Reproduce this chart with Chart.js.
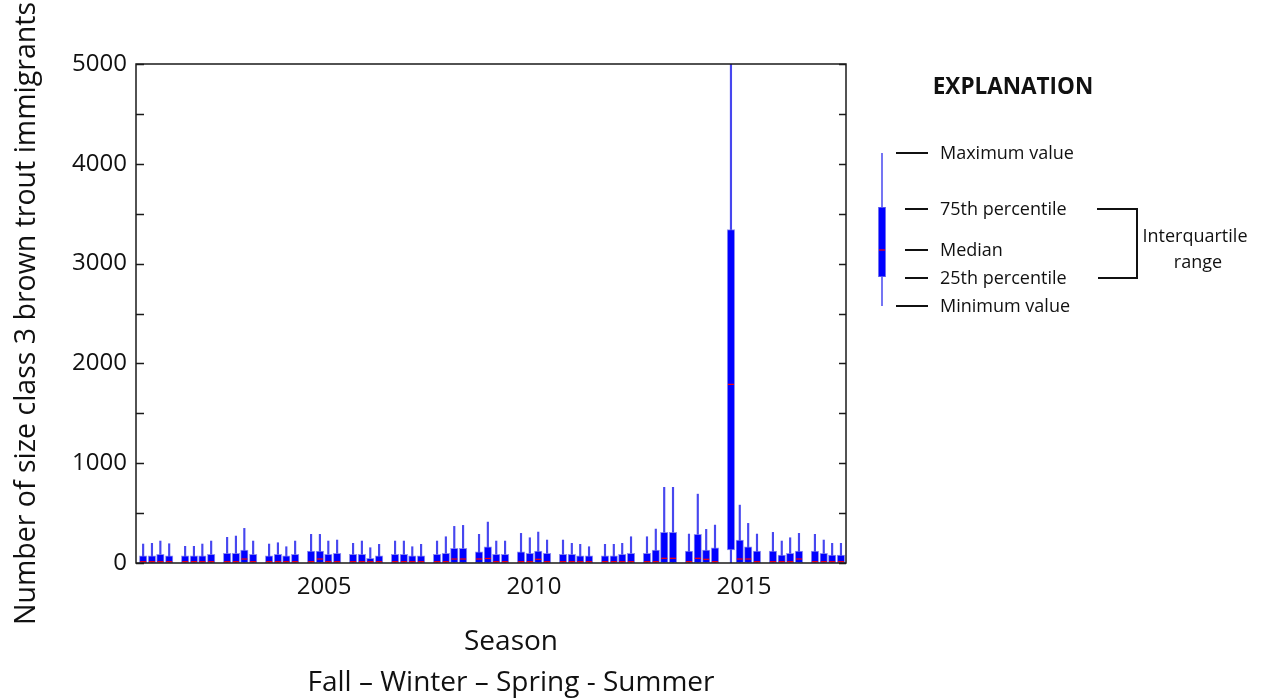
<!DOCTYPE html>
<html>
<head>
<meta charset="utf-8">
<title>Size class 3 brown trout immigrants by season</title>
<script src="https://cdn.jsdelivr.net/npm/chart.js@4.4.1/dist/chart.umd.min.js"></script>
<style>
  html, body { margin: 0; padding: 0; background: #ffffff; }
  canvas { display: block; }
</style>
</head>
<body>
<canvas id="chart" width="1266" height="698"></canvas>
<script>
// Sampling years; each year holds four seasonal boxes (Fall, Winter, Spring, Summer)
const YEARS = [2001, 2002, 2003, 2004, 2005, 2006, 2007, 2008, 2009,
               2010, 2011, 2012, 2013, 2014, 2015, 2016, 2017];
const SEASONS = ['Fall', 'Winter', 'Spring', 'Summer'];
// Position of each season inside its year, in fractions of a year
const SEASON_OFFSET = [-0.31, -0.1, 0.1, 0.31];

// Box-plot statistics, one row per year, one column per season
const MAX_VALUES = [
  [190, 197, 220, 193],
  [167, 167, 190, 220],
  [257, 270, 347, 220],
  [190, 203, 163, 220],
  [287, 287, 220, 230],
  [197, 220, 153, 187],
  [220, 220, 163, 187],
  [220, 263, 367, 377],
  [287, 410, 220, 220],
  [297, 253, 310, 230],
  [230, 197, 187, 163],
  [187, 187, 197, 263],
  [263, 340, 758, 758],
  [290, 690, 337, 380],
  [5000, 580, 397, 290],
  [307, 220, 253, 297],
  [287, 230, 197, 197]
];
const Q3_VALUES = [
  [73, 73, 87, 73],
  [73, 73, 73, 87],
  [97, 97, 130, 87],
  [73, 87, 73, 87],
  [120, 120, 87, 97],
  [87, 87, 47, 73],
  [87, 87, 73, 73],
  [87, 97, 147, 147],
  [113, 163, 87, 87],
  [113, 97, 120, 97],
  [87, 87, 73, 73],
  [73, 73, 87, 97],
  [97, 130, 307, 307],
  [120, 287, 130, 153],
  [3340, 230, 163, 120],
  [120, 80, 97, 120],
  [120, 97, 80, 80]
];
const MEDIAN_VALUES = [
  [13, 13, 13, 13],
  [13, 13, 13, 13],
  [13, 13, 40, 13],
  [13, 13, 13, 13],
  [13, 40, 13, 13],
  [13, 13, 13, 13],
  [13, 13, 13, 13],
  [13, 13, 40, 40],
  [40, 45, 13, 13],
  [13, 13, 37, 13],
  [13, 13, 13, 13],
  [13, 13, 13, 13],
  [13, 13, 47, 47],
  [13, 47, 37, 13],
  [1790, 40, 40, 13],
  [13, 13, 13, 40],
  [13, 13, 13, 13]
];
const Q1_VALUES = [
  [3, 3, 3, 3], [3, 3, 3, 3], [3, 3, 3, 3], [3, 3, 3, 3], [3, 3, 3, 3],
  [3, 3, 3, 3], [3, 3, 3, 3], [3, 3, 3, 3], [3, 3, 3, 3], [3, 3, 3, 3],
  [3, 3, 3, 3], [3, 3, 3, 3], [3, 3, 3, 3], [3, 3, 3, 3], [130, 3, 3, 3],
  [3, 3, 3, 3], [3, 3, 3, 3]
];
const MIN_VALUES = [
  [0, 0, 0, 0], [0, 0, 0, 0], [0, 0, 0, 0], [0, 0, 0, 0], [0, 0, 0, 0],
  [0, 0, 0, 0], [0, 0, 0, 0], [0, 0, 0, 0], [0, 0, 0, 0], [0, 0, 0, 0],
  [0, 0, 0, 0], [0, 0, 0, 0], [0, 0, 0, 0], [0, 0, 0, 0], [0, 0, 0, 0],
  [0, 0, 0, 0], [0, 0, 0, 0]
];

const X_TICKS = [2005, 2010, 2015];
const X_RANGE = [2000.52, 2017.43];
const Y_RANGE = [0, 5000];
const Y_STEP = 500;
const Y_LABEL_STEP = 1000;

const Y_TITLE = 'Number of size class 3 brown trout immigrants';
const X_TITLE = ['Season', 'Fall \u2013 Winter \u2013 Spring - Summer'];

const LEGEND_TITLE = 'EXPLANATION';
const LEGEND_ITEMS = ['Maximum value', '75th percentile', 'Median', '25th percentile', 'Minimum value'];
const LEGEND_IQR = ['Interquartile', 'range'];

// Build whisker, box and median series from the statistics
const whiskers = [], boxes = [], medians = [];
YEARS.forEach((year, i) => {
  SEASONS.forEach((season, j) => {
    const x = year + SEASON_OFFSET[j];
    whiskers.push({ x, y: [MIN_VALUES[i][j], MAX_VALUES[i][j]] });
    boxes.push({ x, y: [Q1_VALUES[i][j], Q3_VALUES[i][j]] });
    medians.push({ x, y: MEDIAN_VALUES[i][j] });
  });
});

const FONT = "'Open Sans', 'DejaVu Sans', sans-serif";
const TEXT = '#111111';
const BOX_BLUE = '#0000ff';
const WHISKER_BLUE = 'rgba(25, 25, 235, 0.8)';
const MEDIAN_RED = '#ff0000';

// Plot frame with inward tick marks on both vertical sides
const framePlugin = {
  id: 'frame',
  afterDatasetsDraw(chart) {
    const { ctx, chartArea: a, scales: { y } } = chart;
    ctx.save();
    ctx.strokeStyle = '#1a1a1a';
    ctx.lineWidth = 1.5;
    ctx.strokeRect(a.left, a.top, a.right - a.left, a.bottom - a.top);
    ctx.lineWidth = 1.3;
    y.ticks.forEach(t => {
      const py = Math.round(y.getPixelForValue(t.value)) + 0.5;
      ctx.beginPath();
      ctx.moveTo(a.left, py); ctx.lineTo(a.left + 8, py);
      ctx.moveTo(a.right - 7, py); ctx.lineTo(a.right, py);
      ctx.stroke();
    });
    ctx.restore();
  }
};

// Two-line caption under the horizontal axis
const seasonCaptionPlugin = {
  id: 'seasonCaption',
  afterDraw(chart) {
    const { ctx, chartArea: a } = chart;
    const cx = (a.left + a.right) / 2 + 20;
    ctx.save();
    ctx.fillStyle = TEXT;
    ctx.font = `28px ${FONT}`;
    ctx.textAlign = 'center';
    ctx.textBaseline = 'middle';
    ctx.fillText(X_TITLE[0], cx, a.bottom + 79);
    ctx.fillText(X_TITLE[1], cx, a.bottom + 120);
    ctx.restore();
  }
};

// Explanation panel to the right of the plot
const explanationPlugin = {
  id: 'explanation',
  afterDraw(chart) {
    const { ctx, chartArea: a } = chart;
    const kx = a.right + 36;          // key box-plot x
    ctx.save();

    ctx.fillStyle = TEXT;
    ctx.font = `bold 22.5px ${FONT}`;
    ctx.textAlign = 'center';
    ctx.textBaseline = 'middle';
    ctx.fillText(LEGEND_TITLE, a.right + 167, 88);

    // key box plot
    ctx.fillStyle = WHISKER_BLUE;
    ctx.fillRect(kx - 0.75, 153, 1.5, 153);
    ctx.fillStyle = BOX_BLUE;
    ctx.fillRect(kx - 3.5, 207, 7, 70);
    ctx.strokeStyle = 'rgba(110,110,235,0.75)';
    ctx.lineWidth = 1;
    ctx.strokeRect(kx - 3.5, 207.5, 7, 69);
    ctx.strokeStyle = MEDIAN_RED;
    ctx.lineWidth = 1.2;
    ctx.beginPath(); ctx.moveTo(kx - 3, 250); ctx.lineTo(kx + 3, 250); ctx.stroke();

    // leader lines and labels
    const rows = [
      { y: 153, x0: a.right + 50 },
      { y: 209, x0: a.right + 59 },
      { y: 250, x0: a.right + 59 },
      { y: 278, x0: a.right + 59 },
      { y: 306, x0: a.right + 50 }
    ];
    ctx.strokeStyle = '#111';
    ctx.lineWidth = 2;
    ctx.font = `18px ${FONT}`;
    ctx.textAlign = 'left';
    ctx.fillStyle = TEXT;
    rows.forEach((r, i) => {
      ctx.beginPath();
      ctx.moveTo(r.x0, r.y); ctx.lineTo(a.right + 82, r.y);
      ctx.stroke();
      ctx.fillText(LEGEND_ITEMS[i], a.right + 94, r.y + 1);
    });

    // interquartile bracket
    ctx.beginPath();
    ctx.moveTo(a.right + 251, 209);
    ctx.lineTo(a.right + 291, 209);
    ctx.lineTo(a.right + 291, 278);
    ctx.lineTo(a.right + 252, 278);
    ctx.stroke();
    ctx.textAlign = 'center';
    ctx.fillText(LEGEND_IQR[0], a.right + 349, 237);
    ctx.fillText(LEGEND_IQR[1], a.right + 352, 263);

    ctx.restore();
  }
};

new Chart(document.getElementById('chart'), {
  type: 'bar',
  data: {
    datasets: [
      {
        type: 'bar',
        label: 'Range',
        data: whiskers,
        backgroundColor: WHISKER_BLUE,
        borderWidth: 0,
        barThickness: 1.5,
        grouped: false,
        order: 3
      },
      {
        type: 'bar',
        label: 'Interquartile range',
        data: boxes,
        backgroundColor: BOX_BLUE,
        borderColor: 'rgba(110, 110, 235, 0.75)',
        borderWidth: 1,
        borderSkipped: false,
        barThickness: 7.5,
        grouped: false,
        order: 2
      },
      {
        type: 'scatter',
        label: 'Median',
        data: medians,
        pointStyle: 'line',
        pointRadius: 3,
        pointHoverRadius: 3,
        borderColor: MEDIAN_RED,
        borderWidth: 1.2,
        order: 1
      }
    ]
  },
  options: {
    responsive: false,
    animation: false,
    devicePixelRatio: 1,
    layout: { padding: { top: 64, right: 420, left: 0, bottom: 0 } },
    plugins: {
      legend: { display: false },
      tooltip: { enabled: false }
    },
    scales: {
      x: {
        type: 'linear',
        min: X_RANGE[0],
        max: X_RANGE[1],
        offset: false,
        grid: { display: false, drawTicks: false },
        border: { display: false },
        afterBuildTicks: scale => { scale.ticks = X_TICKS.map(v => ({ value: v })); },
        afterFit: scale => { scale.height = 135; },
        ticks: {
          autoSkip: false,
          maxRotation: 0,
          padding: 10,
          color: TEXT,
          font: { family: FONT, size: 24 },
          callback: v => String(v)
        },
        title: { display: false }
      },
      y: {
        min: Y_RANGE[0],
        max: Y_RANGE[1],
        grid: { display: false, drawTicks: false },
        border: { display: false },
        afterFit: scale => { scale.width = 136; },
        ticks: {
          stepSize: Y_STEP,
          autoSkip: false,
          padding: 9,
          color: TEXT,
          font: { family: FONT, size: 24 },
          callback: v => (v % Y_LABEL_STEP === 0 ? String(v) : '')
        },
        title: {
          display: true,
          text: Y_TITLE,
          color: TEXT,
          font: { family: FONT, size: 28.5, lineHeight: 1.2 },
          padding: { top: 10, bottom: 0 }
        }
      }
    }
  },
  plugins: [framePlugin, seasonCaptionPlugin, explanationPlugin]
});
</script>
</body>
</html>
